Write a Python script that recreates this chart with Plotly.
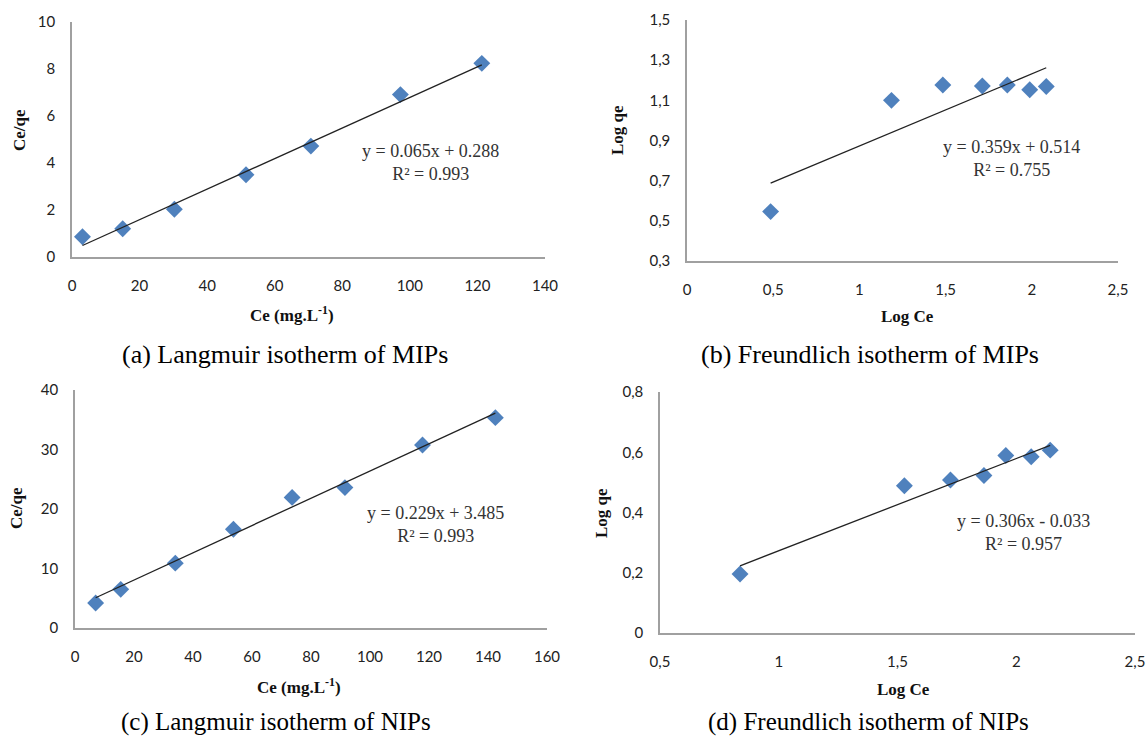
import plotly.graph_objects as go

W, H = 1148, 736

# ---------------- data ----------------
a_ce = [3.1, 15.0, 30.3, 51.5, 70.7, 97.2, 121.3]
a_ceqe = [0.86, 1.20, 2.03, 3.50, 4.72, 6.91, 8.24]
a_fit = (0.065, 0.288)

b_logce = [0.485, 1.186, 1.484, 1.713, 1.858, 1.988, 2.084]
b_logqe = [0.546, 1.100, 1.176, 1.171, 1.176, 1.153, 1.169]
b_fit = (0.359, 0.514)

c_ce = [7.0, 15.5, 34.0, 53.7, 73.6, 91.5, 117.8, 142.5]
c_ceqe = [4.2, 6.5, 10.9, 16.6, 21.95, 23.6, 30.75, 35.35]
c_fit = (0.229, 3.485)

d_logce = [0.837, 1.529, 1.723, 1.864, 1.956, 2.063, 2.143]
d_logqe = [0.196, 0.489, 0.508, 0.523, 0.589, 0.585, 0.607]
d_fit = (0.306, -0.033)

eq_texts = ["y = 0.065x + 0.288<br>R² = 0.993",
            "y = 0.359x + 0.514<br>R² = 0.755",
            "y = 0.229x + 3.485<br>R² = 0.993",
            "y = 0.306x - 0.033<br>R² = 0.957"]
eq_pos = [(106, 4.0), (1.885, 0.81), (122.3, 17.4), (2.03, 0.335)]

x_titles = ["Ce (mg.L<sup>-1</sup>)", "Log Ce", "Ce (mg.L<sup>-1</sup>)", "Log Ce"]
y_titles = ["Ce/qe", "Log qe", "Ce/qe", "Log qe"]
captions = ["(a) Langmuir isotherm of MIPs", "(b) Freundlich isotherm of MIPs",
            "(c) Langmuir isotherm of NIPs", "(d) Freundlich isotherm of NIPs"]

x_ranges = [[0, 140], [0, 2.5], [0, 160], [0.5, 2.5]]
y_ranges = [[0, 10], [0.3, 1.5], [0, 40], [0, 0.8]]
x_dtick = [20, 0.5, 20, 0.5]
y_dtick = [2, 0.2, 10, 0.2]

# ---------------- layout geometry (pixels) ----------------
# (left, right, top, bottom)
boxes = [(72, 545, 22, 257), (687, 1118, 20, 261), (75, 547, 390, 628), (660, 1135, 392, 633)]
xtitle_pos = [(292, 314), (907, 316), (299, 686), (903, 689)]
ytitle_pos = [(20, 130), (618, 130), (17, 508), (601, 513)]
caption_pos = [(285, 354), (870, 354), (276, 722), (868, 722)]
caption_size = [26, 26, 25, 25]

series = [(a_ce, a_ceqe, a_fit), (b_logce, b_logqe, b_fit),
          (c_ce, c_ceqe, c_fit), (d_logce, d_logqe, d_fit)]

fig = go.Figure()
MARK = "#4F81BD"
AXC = "#A0A0A0"
SERIF = "Liberation Serif, Times New Roman, serif"

def px(x):
    return x / W

def py(y):
    return 1 - y / H

def fmt_comma(v, step):
    if step >= 1:
        return str(int(round(v)))
    s = f"{v:.1f}"
    if s.endswith(".0"):
        s = s[:-2]
    return s.replace(".", ",")

for i, (xs, ys, (m, b)) in enumerate(series):
    n = "" if i == 0 else str(i + 1)
    xa, ya = "x" + n, "y" + n
    fig.add_trace(go.Scatter(x=xs, y=ys, mode="markers", xaxis=xa, yaxis=ya,
                             marker=dict(symbol="diamond", size=13, color=MARK,
                                         line=dict(width=0)),
                             showlegend=False))
    x0, x1 = min(xs), max(xs)
    fig.add_trace(go.Scatter(x=[x0, x1], y=[m * x0 + b, m * x1 + b], mode="lines",
                             xaxis=xa, yaxis=ya, line=dict(color="#222222", width=1.3),
                             showlegend=False))
    l, r, t, bt = boxes[i]
    xr, yr = x_ranges[i], y_ranges[i]
    xt = []
    v = xr[0]
    while v <= xr[1] + 1e-9:
        xt.append(round(v, 6)); v += x_dtick[i]
    yt = []
    v = yr[0]
    while v <= yr[1] + 1e-9:
        yt.append(round(v, 6)); v += y_dtick[i]
    tickfont = dict(family="Lato, Open Sans, sans-serif", size=15, color="#222222")
    fig.layout["xaxis" + n] = dict(domain=[px(l), px(r)], range=xr, anchor=ya,
                                   showgrid=False, zeroline=False, showline=True,
                                   linecolor=AXC, linewidth=1.5, automargin=False,
                                   tickvals=xt, ticktext=[fmt_comma(v, x_dtick[i]) for v in xt],
                                   ticks="outside", ticklen=14, tickcolor="rgba(0,0,0,0)",
                                   tickfont=tickfont, fixedrange=True)
    fig.layout["yaxis" + n] = dict(domain=[py(bt), py(t)], range=yr, anchor=xa,
                                   showgrid=False, zeroline=False, showline=True,
                                   linecolor=AXC, linewidth=1.5, automargin=False,
                                   tickvals=yt, ticktext=[fmt_comma(v, y_dtick[i]) for v in yt],
                                   ticks="outside", ticklen=12, tickcolor="rgba(0,0,0,0)",
                                   tickfont=tickfont, fixedrange=True)
    # equation annotation
    ex, ey = eq_pos[i]
    fig.add_annotation(x=ex, y=ey, xref=xa, yref=ya, text=eq_texts[i], showarrow=False,
                       xanchor="center", yanchor="middle",
                       font=dict(family=SERIF, size=18, color="#333333"), align="center")
    # axis titles
    tx, ty = xtitle_pos[i]
    fig.add_annotation(x=px(tx), y=py(ty), xref="paper", yref="paper", text="<b>" + x_titles[i] + "</b>",
                       showarrow=False, xanchor="center", yanchor="middle",
                       font=dict(family=SERIF, size=17, color="#111111"))
    tx, ty = ytitle_pos[i]
    fig.add_annotation(x=px(tx), y=py(ty), xref="paper", yref="paper", text="<b>" + y_titles[i] + "</b>",
                       textangle=-90, showarrow=False, xanchor="center", yanchor="middle",
                       font=dict(family=SERIF, size=17, color="#111111"))
    cx, cy = caption_pos[i]
    fig.add_annotation(x=px(cx), y=py(cy), xref="paper", yref="paper", text=captions[i],
                       showarrow=False, xanchor="center", yanchor="middle",
                       font=dict(family=SERIF, size=caption_size[i], color="#000000"))

fig.update_layout(width=W, height=H, margin=dict(l=0, r=0, t=0, b=0),
                  paper_bgcolor="white", plot_bgcolor="white")

fig.write_html("out.html", include_plotlyjs=True, config={"displayModeBar": False})
